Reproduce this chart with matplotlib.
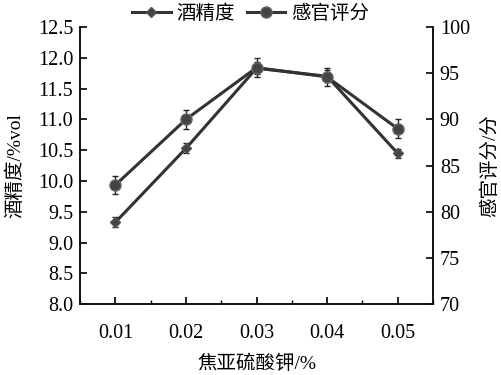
import matplotlib.pyplot as plt
from matplotlib.ticker import MultipleLocator

plt.rcParams['font.family'] = ['Liberation Serif', 'Noto Sans CJK SC']

# 数据
dose = [0.01, 0.02, 0.03, 0.04, 0.05]
alcohol = [9.33, 10.53, 11.83, 11.70, 10.45]
alcohol_err = [0.08, 0.08, 0.10, 0.10, 0.07]
score = [82.9, 90.0, 95.6, 94.6, 89.0]
score_err = [1.0, 1.0, 1.0, 1.0, 1.0]
left_ticks = [8.0, 8.5, 9.0, 9.5, 10.0, 10.5, 11.0, 11.5, 12.0, 12.5]
right_ticks = [70, 75, 80, 85, 90, 95, 100]

fig = plt.figure(figsize=(5.01, 3.75), dpi=100)
ax = fig.add_axes([0.160, 0.189, 0.704, 0.739])
ax2 = ax.twinx()

line_c = '#333333'
l1 = ax.errorbar(dose, alcohol, yerr=alcohol_err, color=line_c, lw=2.2,
                 marker='D', ms=5, mfc='#444444', mec='#555555',
                 ecolor='#222222', elinewidth=1, capsize=2.5, label='酒精度')
l2 = ax2.errorbar(dose, score, yerr=score_err, color=line_c, lw=2.2,
                  marker='o', ms=8, mfc='#444444', mec='#666666',
                  ecolor='#222222', elinewidth=1, capsize=2.5, label='感官评分')

ax.set_xlim(0.005, 0.055)
ax.set_ylim(8.0, 12.5)
ax2.set_ylim(70, 100)
ax.set_xticks(dose)
ax.set_xticklabels(['0.01', '0.02', '0.03', '0.04', '0.05'])
ax.xaxis.set_minor_locator(MultipleLocator(0.005))
ax.set_yticks(left_ticks)
ax.set_yticklabels([f'{v:.1f}' for v in left_ticks])
ax2.set_yticks(right_ticks)

for a in (ax, ax2):
    a.spines['top'].set_visible(False)
    for s in a.spines.values():
        s.set_linewidth(1.2)
        s.set_color('#111111')
ax.tick_params(axis='both', direction='in', labelsize=14.5, length=5, width=1.2, pad=5)
ax.tick_params(axis='x', which='minor', direction='in', length=3, width=1)
ax.tick_params(axis='x', pad=14)
ax2.tick_params(axis='y', direction='in', labelsize=14.5, length=5, width=1.2, pad=5)

ax.set_xlabel('焦亚硫酸钾/%', fontsize=14, labelpad=9)
ax.set_ylabel('酒精度/%vol', fontsize=14, labelpad=10)
ax2.set_ylabel('感官评分/分', fontsize=14, rotation=90, labelpad=8)

fig.legend([l1.lines[0], l2.lines[0]], ['酒精度', '感官评分'], loc='upper center',
           bbox_to_anchor=(0.5, 1.035), ncol=2, frameon=False, fontsize=14,
           handlelength=2.0, columnspacing=0.6, handletextpad=0.3)

fig.savefig('out.png', dpi=100)
